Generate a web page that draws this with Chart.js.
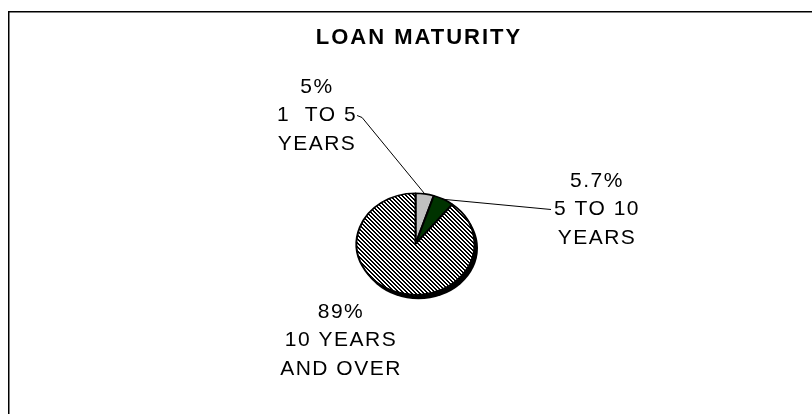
<!DOCTYPE html>
<html><head><meta charset="utf-8">
<script src="https://cdn.jsdelivr.net/npm/chart.js@4.4.1/dist/chart.umd.min.js"></script>
<style>html,body{margin:0;padding:0;background:#fff;}canvas{display:block;}</style>
</head><body>
<canvas id="c" width="812" height="414"></canvas>
<script>
// ---- data ----
const chartTitle = 'LOAN MATURITY';
const categories = ['1  TO 5 YEARS', '5 TO 10 YEARS', '10 YEARS AND OVER'];
const categoryLines = [['1  TO 5', 'YEARS'], ['5 TO 10', 'YEARS'], ['10 YEARS', 'AND OVER']];
const values = [5, 5.7, 89];

// ---- style ----
const squash = 0.86;             // vertical tilt of the pie
const shadowOffset = [3, 4];
const labelFont = '21px "Liberation Sans", Arial, sans-serif';
const titleFont = 'bold 22px "Liberation Sans", Arial, sans-serif';
const titleOffsetY = -206;       // title centre relative to pie centre
const lineGap = 28.5;
const labelOffsets = [[-98.5, -157], [181.5, -63], [-74.5, 68]];
const leaderSide = ['right', 'left', null];

const canvas = document.getElementById('c');
const mainCtx = canvas.getContext('2d');

function hatchPattern() {
  const s = 4;
  const p = document.createElement('canvas');
  p.width = s; p.height = s;
  const g = p.getContext('2d');
  const img = g.createImageData(s, s);
  for (let yy = 0; yy < s; yy++) {
    for (let xx = 0; xx < s; xx++) {
      const on = (((xx - yy) % s) + s) % s < 2;
      const k = (yy * s + xx) * 4;
      const v = on ? 0 : 255;
      img.data[k] = v; img.data[k + 1] = v; img.data[k + 2] = v; img.data[k + 3] = 255;
    }
  }
  g.putImageData(img, 0, 0);
  return mainCtx.createPattern(p, 'repeat');
}
const hatch = hatchPattern();
const sliceColors = ['#c0c0c0', '#003300', hatch];

const framePlugin = {
  id: 'frame',
  beforeDraw(chart) {
    const ctx = chart.ctx;
    ctx.save();
    ctx.strokeStyle = '#000'; ctx.lineWidth = 1.5;
    ctx.beginPath();
    ctx.moveTo(8.75, chart.height); ctx.lineTo(8.75, 11.75); ctx.lineTo(chart.width, 11.75);
    ctx.stroke();
    ctx.restore();
  }
};

const tiltPlugin = {
  id: 'tilt',
  beforeDatasetsDraw(chart) {
    const arc = chart.getDatasetMeta(0).data[0];
    const x = arc.x, y = arc.y, r = arc.outerRadius;
    const ctx = chart.ctx;
    ctx.save();
    ctx.fillStyle = '#000';
    ctx.beginPath();
    ctx.ellipse(x + shadowOffset[0], y + shadowOffset[1], r + 0.5, r * squash + 0.5, 0, 0, Math.PI * 2);
    ctx.fill();
    // keep the hatch crisp (undo the tilt for the pattern itself)
    const c = y * (1 - squash);
    if (hatch.setTransform) {
      hatch.setTransform(new DOMMatrix([1, 0, 0, 1 / squash, 0, (Math.round(c) - c) / squash]));
    }
    ctx.translate(x, y); ctx.scale(1, squash); ctx.translate(-x, -y);
  },
  afterDatasetsDraw(chart) { chart.ctx.restore(); },
  afterDraw(chart) {
    const meta = chart.getDatasetMeta(0);
    const ctx = chart.ctx;
    const c0 = meta.data[0];
    ctx.save();
    ctx.fillStyle = '#000';
    ctx.strokeStyle = '#000';
    ctx.textAlign = 'center';
    ctx.textBaseline = 'middle';
    // title
    ctx.font = titleFont;
    ctx.letterSpacing = '2px';
    ctx.fillText(chartTitle, c0.x + 3.5, c0.y + titleOffsetY);
    // labels
    ctx.font = labelFont;
    ctx.letterSpacing = '1.5px';
    ctx.lineWidth = 1;
    meta.data.forEach((arc, i) => {
      const lines = [values[i] + '%', ...categoryLines[i]];
      const lx = arc.x + labelOffsets[i][0];
      const ly = arc.y + labelOffsets[i][1];
      lines.forEach((t, j) => ctx.fillText(t, lx, ly + j * lineGap));
      const side = leaderSide[i];
      if (side) {
        const mid = (arc.startAngle + arc.endAngle) / 2;
        const ex = arc.x + Math.cos(mid) * arc.outerRadius;
        const ey = arc.y + Math.sin(mid) * arc.outerRadius * squash;
        const w = ctx.measureText(lines[1]).width;
        const sy = ly + lineGap;
        ctx.beginPath();
        if (side === 'right') {
          const sx = lx + w / 2;
          ctx.moveTo(sx, sy);
          ctx.lineTo(sx + 5, sy + 2);
        } else {
          const sx = lx - w / 2 - 3;
          ctx.moveTo(sx, sy);
        }
        ctx.lineTo(ex, ey);
        ctx.stroke();
      }
    });
    ctx.restore();
  }
};

new Chart(canvas, {
  type: 'pie',
  data: {
    labels: categories,
    datasets: [{
      data: values,
      backgroundColor: sliceColors,
      borderColor: '#000',
      borderWidth: 2,
      clip: false
    }]
  },
  options: {
    responsive: false,
    animation: false,
    devicePixelRatio: 1,
    layout: { padding: { left: 355.5, right: 336.5, top: 184, bottom: 110 } },
    plugins: {
      legend: { display: false },
      tooltip: { enabled: false },
      title: { display: false }
    }
  },
  plugins: [framePlugin, tiltPlugin]
});
</script>
</body></html>
